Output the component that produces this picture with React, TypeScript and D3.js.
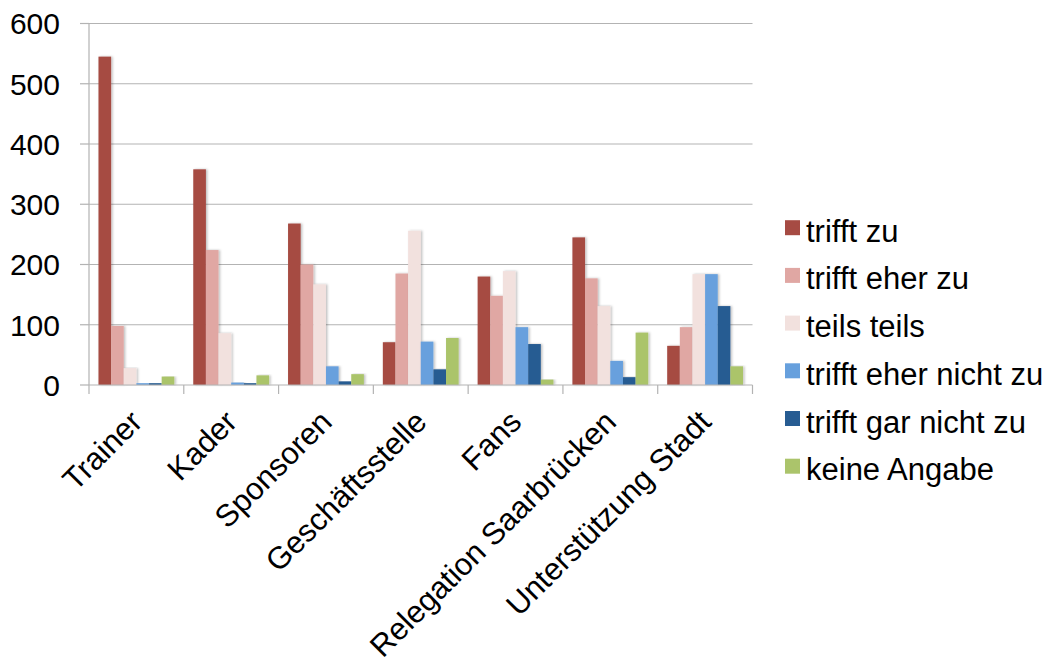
import React from "react";
import * as d3 from "d3";

// Categories along the x axis
const categories = [
  "Trainer",
  "Kader",
  "Sponsoren",
  "Geschäftsstelle",
  "Fans",
  "Relegation Saarbrücken",
  "Unterstützung Stadt",
];

// Answer options (series)
const seriesNames = [
  "trifft zu",
  "trifft eher zu",
  "teils teils",
  "trifft eher nicht zu",
  "trifft gar nicht zu",
  "keine Angabe",
];

const seriesColors = ["#A64B43", "#E0A7A3", "#F2E1DE", "#67A0DD", "#275C92", "#ABC46B"];

// Counts per series, one value per category
const triffZu = [545, 358, 268, 71, 180, 245, 65];
const eherZu = [98, 224, 200, 185, 148, 177, 96];
const teilsTeils = [28, 86, 167, 256, 189, 131, 184];
const eherNicht = [3, 4, 31, 72, 96, 40, 184];
const garNicht = [3, 3, 6, 26, 68, 13, 131];
const keineAngabe = [14, 16, 18, 78, 9, 87, 31];

const seriesValues = [triffZu, eherZu, teilsTeils, eherNicht, garNicht, keineAngabe];

const yTicks = [0, 100, 200, 300, 400, 500, 600];

const W = 1048;
const H = 659;
const left = 89;
const right = 752.5;
const top = 23.5;
const bottom = 385;
const FONT = "'Liberation Sans', Arial, Helvetica, sans-serif";

export default function App() {
  const x0 = d3.scaleBand<string>().domain(categories).range([left, right]).paddingInner(0).paddingOuter(0);
  const bw = x0.bandwidth();
  const barW = bw / 7.5;
  const x1 = d3
    .scaleBand<number>()
    .domain(d3.range(seriesNames.length))
    .range([barW * 0.75, bw - barW * 0.75]);
  const y = d3.scaleLinear().domain([0, 600]).range([bottom, top]);

  const grid = "#B3B3B3";

  return (
    <svg
      width={W}
      height={H}
      style={{ position: "absolute", left: 0, top: 0, background: "#fff" }}
      fontFamily={FONT}
    >
      <defs>
        <filter id="barShadow" x="-20%" y="-5%" width="150%" height="110%">
          <feDropShadow dx="1.5" dy="0" stdDeviation="0.8" floodColor="#000" floodOpacity="0.25" />
        </filter>
      </defs>

      {/* horizontal gridlines and y ticks */}
      {yTicks.map((t) => (
        <g key={t}>
          {t > 0 && (
            <line x1={left} x2={right} y1={y(t)} y2={y(t)} stroke={grid} strokeWidth={1.2} />
          )}
          <line x1={left - 9} x2={left} y1={y(t)} y2={y(t)} stroke={grid} strokeWidth={1.2} />
          <text x={60} y={y(t)} dy="0.36em" textAnchor="end" fontSize={30} fill="#000">
            {t}
          </text>
        </g>
      ))}

      {/* bars */}
      {categories.map((c, ci) => (
        <g key={c} transform={`translate(${x0(c)},0)`}>
          {seriesValues.map((vals, si) => (
            <rect
              key={si}
              x={x1(si)}
              y={y(vals[ci])}
              width={x1.bandwidth()}
              height={y(0) - y(vals[ci])}
              fill={seriesColors[si]}
              filter="url(#barShadow)"
            />
          ))}
        </g>
      ))}

      {/* axes */}
      <line x1={left} x2={left} y1={top} y2={bottom} stroke={grid} strokeWidth={1.2} />
      <line x1={left} x2={right} y1={bottom} y2={bottom} stroke={grid} strokeWidth={1.2} />
      {categories.concat(["end"]).map((c, i) => {
        const xx = left + i * bw;
        return <line key={i} x1={xx} x2={xx} y1={bottom} y2={bottom + 9} stroke={grid} strokeWidth={1.2} />;
      })}

      {/* category labels */}
      {categories.map((c) => {
        const cx = (x0(c) as number) + bw / 2;
        return (
          <text
            key={c}
            transform={`translate(${cx},${bottom + 31}) rotate(-45)`}
            textAnchor="end"
            dy="0.35em"
            fontSize={31}
            fill="#000"
          >
            {c}
          </text>
        );
      })}

      {/* legend */}
      {seriesNames.map((s, i) => {
        const base = 241.7 + i * 47.7;
        return (
          <g key={s}>
            <rect x={785} y={base - 21.5} width={15} height={15} fill={seriesColors[i]} />
            <text x={806} y={base} fontSize={31} fill="#000">
              {s}
            </text>
          </g>
        );
      })}
    </svg>
  );
}
